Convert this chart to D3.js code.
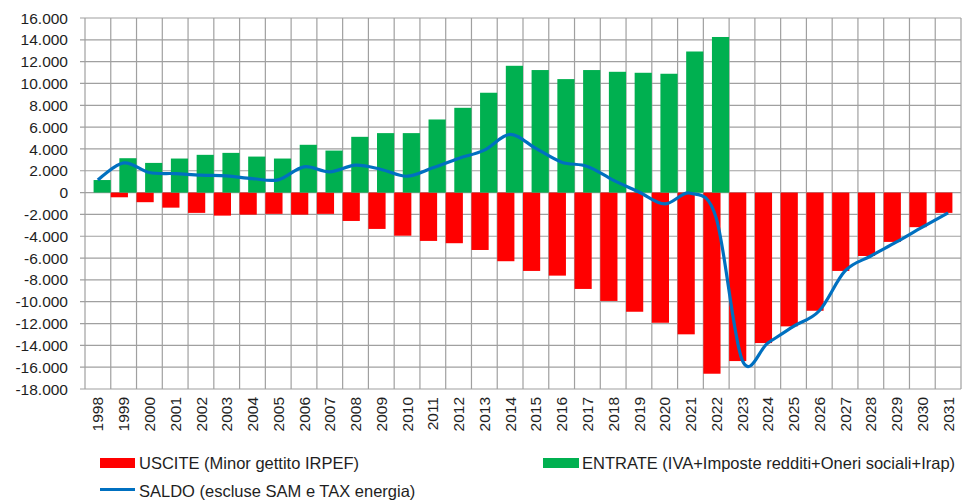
<!DOCTYPE html>
<html>
<head>
<meta charset="utf-8">
<script src="https://cdn.jsdelivr.net/npm/d3@7"></script>
<style>
  body { margin: 0; background: #fff; }
  text { font-family: "Liberation Sans", Arial, sans-serif; fill: #1e1e1e; }
</style>
</head>
<body>
<div id="chart"></div>
<script>
// anni
var years = d3.range(1998, 2032).map(String);

// USCITE (Minor gettito IRPEF)
var uscite = [0, -430, -880, -1380, -1860, -2110, -2020, -1950, -2020, -1950,
  -2600, -3330, -3950, -4430, -4640, -5260, -6290, -7180, -7610, -8830,
  -9930, -10920, -11930, -12990, -16600, -15440, -13790, -12260, -10830, -7180,
  -5810, -4520, -3170, -1860];

// ENTRATE (IVA+Imposte redditi+Oneri sociali+Irap)
var entrate = [1150, 3150, 2720, 3120, 3460, 3640, 3300, 3120, 4380, 3850,
  5110, 5450, 5450, 6700, 7770, 9150, 11620, 11230, 10400, 11230,
  11070, 10980, 10890, 12930, 14260, 0, 0, 0, 0, 0,
  0, 0, 0, 0];

// SALDO (escluse SAM e TAX energia)
var saldo = [1150, 2720, 1840, 1740, 1600, 1530, 1280, 1170, 2360, 1900,
  2510, 2120, 1500, 2270, 3130, 3890, 5330, 4050, 2790, 2400,
  1140, 60, -1040, -60, -2340, -15300, -13790, -12260, -10830, -7180,
  -5810, -4520, -3170, -1860];

var yTicks = d3.range(-18000, 16001, 2000);

var width = 963, height = 502;
var mLeft = 85, mRight = 961, mTop = 18, mBottom = 389;

var svg = d3.select('#chart').append('svg')
    .attr('width', width)
    .attr('height', height);

var x = d3.scaleBand().domain(years).range([mLeft, mRight]).padding(0);
var y = d3.scaleLinear().domain([-18000, 16000]).range([mBottom, mTop]);

var fmt = function(d) { return d3.format(',')(d).replace(/,/g, '.').replace('−', '-'); };

// griglia
var grid = svg.append('g').attr('stroke', '#a0a0a0').attr('stroke-width', 1.2);
grid.selectAll('line.h').data(yTicks).enter().append('line')
    .attr('x1', mLeft - 5).attr('x2', mRight)
    .attr('y1', function(d) { return y(d); })
    .attr('y2', function(d) { return y(d); });
grid.selectAll('line.v').data(years.concat(['end'])).enter().append('line')
    .attr('x1', function(d, i) { return i < years.length ? x(d) : mRight; })
    .attr('x2', function(d, i) { return i < years.length ? x(d) : mRight; })
    .attr('y1', mTop).attr('y2', mBottom);

// etichette asse y
svg.append('g').selectAll('text').data(yTicks).enter().append('text')
    .attr('x', 68)
    .attr('y', function(d) { return y(d); })
    .attr('dy', '0.36em')
    .attr('text-anchor', 'end')
    .style('font-size', '15.5px')
    .text(fmt);

// etichette asse x
svg.append('g').selectAll('text').data(years).enter().append('text')
    .attr('transform', function(d) {
      return 'translate(' + (x(d) + x.bandwidth() / 2) + ',' + (mBottom + 8) + ') rotate(-90)';
    })
    .attr('dy', '0.36em')
    .attr('text-anchor', 'end')
    .style('font-size', '15.5px')
    .text(function(d) { return d; });

// barre
var bw = x.bandwidth() / 1.5;
svg.append('g').selectAll('rect').data(uscite).enter().append('rect')
    .attr('x', function(d, i) { return x(years[i]); })
    .attr('width', bw)
    .attr('y', function(d) { return y(Math.max(0, d)); })
    .attr('height', function(d) { return Math.abs(y(d) - y(0)); })
    .attr('fill', '#ff0000');

svg.append('g').selectAll('rect').data(entrate).enter().append('rect')
    .attr('x', function(d, i) { return x(years[i]) + bw * 0.5; })
    .attr('width', bw)
    .attr('y', function(d) { return y(Math.max(0, d)); })
    .attr('height', function(d) { return Math.abs(y(d) - y(0)); })
    .attr('fill', '#00b050');

// linea saldo
var line = d3.line()
    .x(function(d, i) { return x(years[i]) + x.bandwidth() / 2; })
    .y(function(d) { return y(d); })
    .curve(d3.curveCardinal.tension(0));

svg.append('path').datum(saldo)
    .attr('d', line)
    .attr('fill', 'none')
    .attr('stroke', '#0070c0')
    .attr('stroke-width', 3.2)
    .attr('stroke-linejoin', 'round');

// legenda
var leg = svg.append('g').style('font-size', '16.5px');
leg.append('rect').attr('x', 100).attr('y', 458).attr('width', 35).attr('height', 10).attr('fill', '#ff0000');
leg.append('text').attr('x', 139).attr('y', 468.5).text('USCITE (Minor gettito IRPEF)');
leg.append('rect').attr('x', 543).attr('y', 458).attr('width', 36).attr('height', 10).attr('fill', '#00b050');
leg.append('text').attr('x', 582).attr('y', 468.5).text('ENTRATE (IVA+Imposte redditi+Oneri sociali+Irap)');
leg.append('line').attr('x1', 100).attr('x2', 135).attr('y1', 489.5).attr('y2', 489.5)
    .attr('stroke', '#0070c0').attr('stroke-width', 3.2);
leg.append('text').attr('x', 139).attr('y', 496.5).text('SALDO (escluse SAM e TAX energia)');
</script>
</body>
</html>
